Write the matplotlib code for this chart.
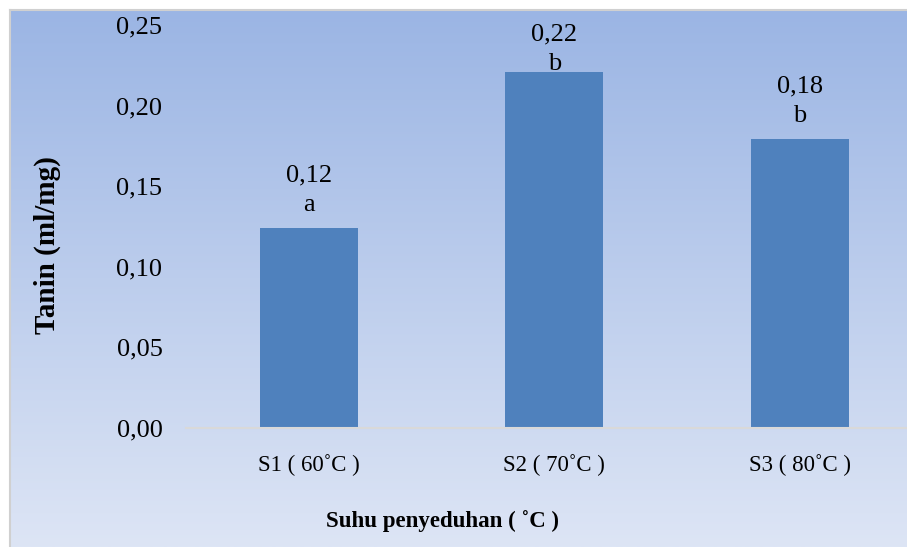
import numpy as np
import matplotlib
matplotlib.use("Agg")
import matplotlib.pyplot as plt
from matplotlib.ticker import FuncFormatter
from matplotlib.lines import Line2D

# data
categories = ["S1 ( 60˚C )", "S2 ( 70˚C )", "S3 ( 80˚C )"]
tanin = [0.124, 0.221, 0.179]
value_labels = ["0,12", "0,22", "0,18"]
letters = ["a", "b", "b"]

plt.rcParams["font.family"] = ["Liberation Serif", "DejaVu Serif"]

W, H = 907, 547
fig = plt.figure(figsize=(W / 100, H / 100), dpi=100)

# gradient background, border only on top and left (image is cropped)
bg = fig.add_axes([10 / W, 0, (W - 10) / W, (H - 10) / H])
top = np.array([155, 181, 228]) / 255
bot = np.array([221, 229, 245]) / 255
t = np.linspace(0, 1, 256)[:, None]
grad = (top * (1 - t) + bot * t)[:, None, :]
bg.imshow(grad, aspect="auto", extent=[0, 1, 0, 1])
bg.set_xlim(0, 1)
bg.set_ylim(0, 1)
bg.axis("off")
x0, y1 = 10 / W, 1 - 10 / H
fig.add_artist(Line2D([x0, 1], [y1, y1], transform=fig.transFigure,
                      color="#d0d0d0", linewidth=1.5))
fig.add_artist(Line2D([x0, x0], [0, y1], transform=fig.transFigure,
                      color="#d0d0d0", linewidth=1.5))

ax = fig.add_axes([186 / W, (H - 428) / H, 736.5 / W, 403 / H])
ax.patch.set_alpha(0)
x = np.arange(len(categories))
ax.bar(x, tanin, width=0.4, color="#4f81bd", zorder=2)
ax.set_xlim(-0.5, 2.5)
ax.set_ylim(0, 0.25)
ax.set_yticks([0, 0.05, 0.10, 0.15, 0.20, 0.25])
ax.yaxis.set_major_formatter(FuncFormatter(lambda v, p: f"{v:.2f}".replace(".", ",")))
ax.set_xticks(x)
ax.set_xticklabels(categories, fontsize=16.5)
ax.tick_params(axis="y", length=0, pad=17, labelsize=19)
ax.tick_params(axis="x", length=0, pad=19)
for s in ["top", "right", "left"]:
    ax.spines[s].set_visible(False)
ax.spines["bottom"].set_color("#d9d9d9")
ax.spines["bottom"].set_linewidth(1.5)

labels = []
for xi, v, lab, let in zip(x, tanin, value_labels, letters):
    a = ax.annotate(f"{lab}\n{let}", (xi, v), xytext=(0, 9), textcoords="offset points",
                    ha="center", va="bottom", fontsize=19, linespacing=1.45)
    labels.append(a)

fig.text(47 / W, 1 - 245 / H, "Tanin (ml/mg)", rotation=90, ha="center", va="center",
         fontsize=21, fontweight="bold")
fig.text(442 / W, 1 - 521 / H, "Suhu penyeduhan ( ˚C )", ha="center", va="center",
         fontsize=16.5, fontweight="bold")

# keep data labels inside the plot area, like the original
fig.canvas.draw()
r = fig.canvas.get_renderer()
ax_top = ax.get_window_extent(r).y1
for a in labels:
    over = a.get_window_extent(r).y1 - (ax_top + 2)
    if over > 0:
        a.xyann = (0, 9 - over * 72 / fig.dpi)

fig.savefig("out.png", dpi=100)
